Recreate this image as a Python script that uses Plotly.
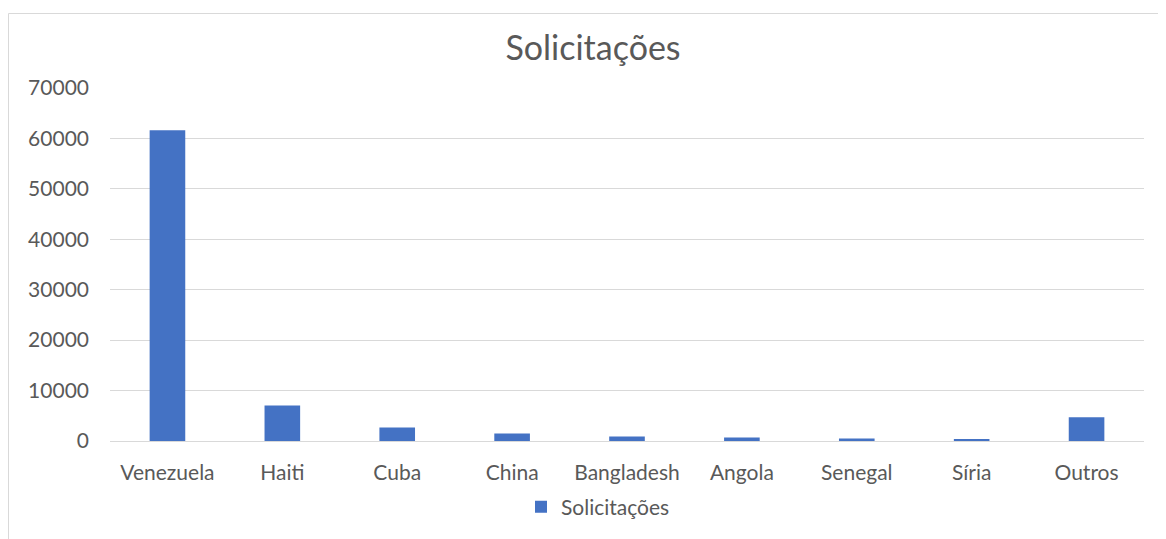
import plotly.graph_objects as go

categories = ["Venezuela", "Haiti", "Cuba", "China", "Bangladesh", "Angola", "Senegal", "Síria", "Outros"]
values = [61600, 7050, 2700, 1500, 900, 700, 480, 350, 4700]
series_name = "Solicitações"
y_ticks = [0, 10000, 20000, 30000, 40000, 50000, 60000, 70000]

# page body has an 8px margin; the figure is placed at (8, 8)
W, H = 1158, 531
L, R, T, B = 102, 22, 80, 98
pw = W - L - R
ph = H - T - B

fig = go.Figure()
fig.add_trace(go.Bar(x=categories, y=values, name=series_name,
                     marker=dict(color="#4472C4", line=dict(width=0)),
                     showlegend=True))

font_family = "Lato, 'Open Sans', sans-serif"
center_x = (585 - L) / pw
fig.update_layout(
    width=W, height=H,
    margin=dict(l=L, r=R, t=T, b=B),
    paper_bgcolor="white", plot_bgcolor="white",
    bargap=0.69,
    title=dict(text="Solicitações", x=center_x, xanchor="center", xref="paper",
               y=1 - 40 / H, yanchor="middle",
               font=dict(family=font_family, size=34, color="#595959")),
    font=dict(family=font_family, size=21, color="#595959"),
    showlegend=True,
    legend=dict(orientation="h", x=(590 - L) / pw, xanchor="center", y=-(499 - 433) / ph, yanchor="middle",
                font=dict(size=21, color="#595959"), itemwidth=30),
    xaxis=dict(showgrid=False, showline=False, zeroline=False,
               ticks="", ticklabelstandoff=17,
               tickfont=dict(size=21, color="#595959")),
    yaxis=dict(range=[0, 70000], tickvals=y_ticks, ticktext=[str(v) for v in y_ticks],
               showgrid=True, gridcolor="#d9d9d9", gridwidth=1,
               zeroline=True, zerolinecolor="#d9d9d9", zerolinewidth=1,
               showline=False, ticks="", ticklabelstandoff=20,
               tickfont=dict(size=21, color="#595959")),
)

# chart border (Excel-style chart area)
fig.add_shape(type="rect", xref="paper", yref="paper",
              x0=(0.5 - L) / pw, x1=(W + 20 - L) / pw,
              y0=-(H + 20 - (H - B)) / ph, y1=(H - B - 5.5) / ph,
              line=dict(color="#d9d9d9", width=1), fillcolor="rgba(0,0,0,0)", layer="below")

fig.write_html("out.html")
